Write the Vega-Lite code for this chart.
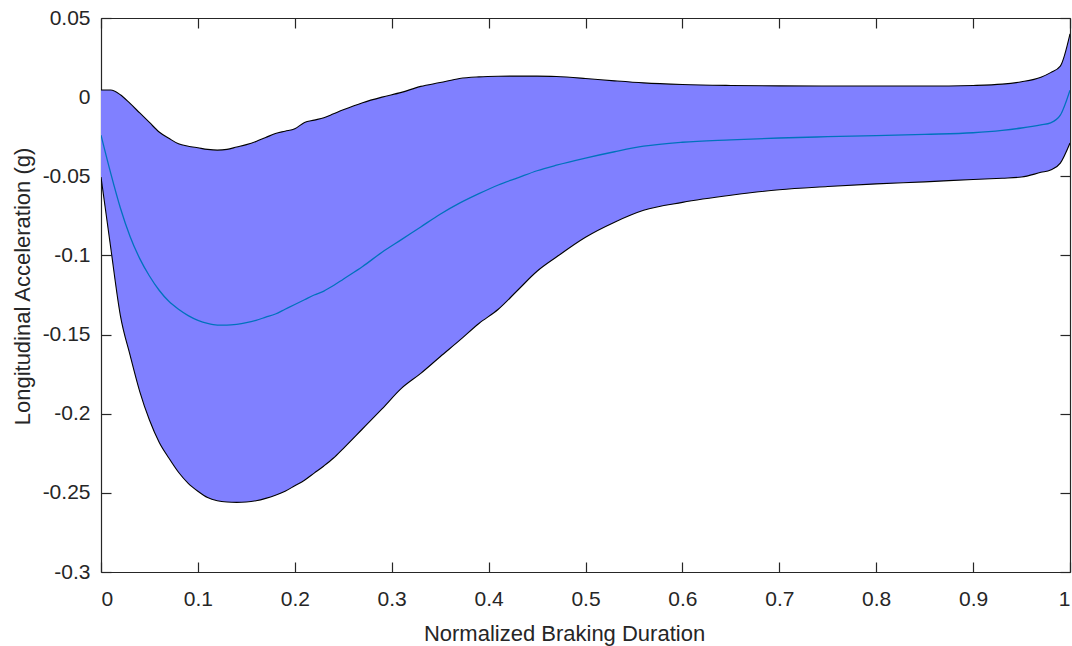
{
  "$schema": "https://vega.github.io/schema/vega-lite/v6.json",
  "width": 969,
  "height": 554,
  "autosize": {"type": "none"},
  "padding": {"left": 101, "top": 18, "right": 2, "bottom": 74},
  "background": "white",
  "config": {
    "view": {"stroke": null},
    "font": "Liberation Sans",
    "axis": {
      "domainColor": "#262626",
      "domainWidth": 1.2,
      "tickColor": "#262626",
      "tickWidth": 1.2,
      "tickSize": -10,
      "labelColor": "#262626",
      "labelFont": "Liberation Sans",
      "labelFontSize": 21,
      "titleFont": "Liberation Sans",
      "titleFontSize": 22,
      "titleFontWeight": "normal",
      "titleColor": "#262626",
      "grid": false,
      "zindex": 1
    }
  },
  "data": {
    "values": [
      {"x": 0, "lower": -0.0505, "mean": -0.024, "upper": 0.0045},
      {"x": 0.01, "lower": -0.095, "mean": -0.048, "upper": 0.0045},
      {"x": 0.02, "lower": -0.138, "mean": -0.07, "upper": 0.0015},
      {"x": 0.03, "lower": -0.163, "mean": -0.088, "upper": -0.004},
      {"x": 0.04, "lower": -0.186, "mean": -0.102, "upper": -0.01},
      {"x": 0.05, "lower": -0.204, "mean": -0.113, "upper": -0.016},
      {"x": 0.06, "lower": -0.218, "mean": -0.122, "upper": -0.022},
      {"x": 0.07, "lower": -0.228, "mean": -0.129, "upper": -0.026},
      {"x": 0.08, "lower": -0.237, "mean": -0.134, "upper": -0.0295},
      {"x": 0.09, "lower": -0.244, "mean": -0.138, "upper": -0.031},
      {"x": 0.1, "lower": -0.249, "mean": -0.141, "upper": -0.032},
      {"x": 0.11, "lower": -0.253, "mean": -0.143, "upper": -0.033},
      {"x": 0.12, "lower": -0.255, "mean": -0.144, "upper": -0.0335},
      {"x": 0.13, "lower": -0.2558, "mean": -0.144, "upper": -0.033},
      {"x": 0.14, "lower": -0.256, "mean": -0.1435, "upper": -0.0315},
      {"x": 0.15, "lower": -0.2558, "mean": -0.1425, "upper": -0.03},
      {"x": 0.16, "lower": -0.255, "mean": -0.141, "upper": -0.028},
      {"x": 0.17, "lower": -0.2535, "mean": -0.139, "upper": -0.0255},
      {"x": 0.18, "lower": -0.2515, "mean": -0.137, "upper": -0.023},
      {"x": 0.19, "lower": -0.249, "mean": -0.134, "upper": -0.0215},
      {"x": 0.2, "lower": -0.2455, "mean": -0.131, "upper": -0.02},
      {"x": 0.21, "lower": -0.242, "mean": -0.128, "upper": -0.016},
      {"x": 0.22, "lower": -0.2375, "mean": -0.125, "upper": -0.0145},
      {"x": 0.23, "lower": -0.233, "mean": -0.1225, "upper": -0.013},
      {"x": 0.24, "lower": -0.228, "mean": -0.119, "upper": -0.0105},
      {"x": 0.25, "lower": -0.222, "mean": -0.115, "upper": -0.008},
      {"x": 0.27, "lower": -0.2095, "mean": -0.107, "upper": -0.0035},
      {"x": 0.29, "lower": -0.197, "mean": -0.098, "upper": 0.0},
      {"x": 0.31, "lower": -0.184, "mean": -0.09, "upper": 0.003},
      {"x": 0.33, "lower": -0.1745, "mean": -0.082, "upper": 0.0068},
      {"x": 0.35, "lower": -0.164, "mean": -0.074, "upper": 0.0092},
      {"x": 0.37, "lower": -0.1537, "mean": -0.067, "upper": 0.0118},
      {"x": 0.39, "lower": -0.143, "mean": -0.061, "upper": 0.0128},
      {"x": 0.41, "lower": -0.134, "mean": -0.0555, "upper": 0.0132},
      {"x": 0.43, "lower": -0.122, "mean": -0.051, "upper": 0.0133},
      {"x": 0.45, "lower": -0.11, "mean": -0.0465, "upper": 0.0133},
      {"x": 0.47, "lower": -0.101, "mean": -0.043, "upper": 0.013},
      {"x": 0.5, "lower": -0.0885, "mean": -0.0385, "upper": 0.0118},
      {"x": 0.53, "lower": -0.079, "mean": -0.0345, "upper": 0.0103},
      {"x": 0.56, "lower": -0.0715, "mean": -0.031, "upper": 0.009},
      {"x": 0.6, "lower": -0.0665, "mean": -0.0285, "upper": 0.008},
      {"x": 0.65, "lower": -0.062, "mean": -0.027, "upper": 0.0074},
      {"x": 0.7, "lower": -0.0585, "mean": -0.0258, "upper": 0.0071},
      {"x": 0.75, "lower": -0.0565, "mean": -0.025, "upper": 0.007},
      {"x": 0.8, "lower": -0.0548, "mean": -0.0243, "upper": 0.007},
      {"x": 0.85, "lower": -0.0535, "mean": -0.0235, "upper": 0.007},
      {"x": 0.9, "lower": -0.052, "mean": -0.0225, "upper": 0.0074},
      {"x": 0.93, "lower": -0.0512, "mean": -0.021, "upper": 0.0082},
      {"x": 0.95, "lower": -0.0505, "mean": -0.0195, "upper": 0.0097},
      {"x": 0.97, "lower": -0.0475, "mean": -0.0175, "upper": 0.0126},
      {"x": 0.98, "lower": -0.046, "mean": -0.0162, "upper": 0.0155},
      {"x": 0.99, "lower": -0.0417, "mean": -0.0114, "upper": 0.0196},
      {"x": 1.0, "lower": -0.029, "mean": 0.0044, "upper": 0.04}
    ]
  },
  "layer": [
    {
      "mark": {"type": "area", "color": "#8080ff", "opacity": 1, "clip": true, "interpolate": "monotone"},
      "encoding": {
        "x": {
          "field": "x", "type": "quantitative",
          "scale": {"domain": [0, 1], "nice": false, "zero": false},
          "axis": {
            "orient": "bottom",
            "values": [0, 0.1, 0.2, 0.3, 0.4, 0.5, 0.6, 0.7, 0.8, 0.9, 1],
            "format": ".1~f",
            "labelPadding": 26,
            "title": "Normalized Braking Duration",
            "titleX": 463,
            "titleY": 61,
            "titleAlign": "center",
            "titleBaseline": "middle"
          }
        },
        "y": {
          "field": "lower", "type": "quantitative",
          "scale": {"domain": [-0.3, 0.05], "nice": false, "zero": false},
          "axis": {
            "orient": "left",
            "values": [-0.3, -0.25, -0.2, -0.15, -0.1, -0.05, 0, 0.05],
            "labelExpr": "datum.value == 0 ? '0' : (datum.value < 0 ? '-' : '') + format(abs(datum.value), '.2~f')",
            "labelPadding": 21,
            "title": "Longitudinal Acceleration (g)",
            "titleX": -79,
            "titleY": 268,
            "titleAlign": "center",
            "titleBaseline": "middle",
            "titleAngle": -90
          }
        },
        "y2": {"field": "upper"}
      }
    },
    {
      "mark": {"type": "line", "color": "#000000", "strokeWidth": 1.1, "clip": true, "interpolate": "monotone"},
      "encoding": {
        "x": {
          "field": "x", "type": "quantitative",
          "axis": {"orient": "top", "values": [0, 0.1, 0.2, 0.3, 0.4, 0.5, 0.6, 0.7, 0.8, 0.9, 1], "labels": false, "title": null}
        },
        "y": {
          "field": "upper", "type": "quantitative",
          "axis": {"orient": "right", "values": [-0.3, -0.25, -0.2, -0.15, -0.1, -0.05, 0, 0.05], "labels": false, "title": null}
        }
      }
    },
    {
      "mark": {"type": "line", "color": "#000000", "strokeWidth": 1.1, "clip": true, "interpolate": "monotone"},
      "encoding": {
        "x": {"field": "x", "type": "quantitative", "axis": null},
        "y": {"field": "lower", "type": "quantitative", "axis": null}
      }
    },
    {
      "mark": {"type": "line", "color": "#0072BD", "strokeWidth": 1.3, "clip": true, "interpolate": "monotone"},
      "encoding": {
        "x": {"field": "x", "type": "quantitative", "axis": null},
        "y": {"field": "mean", "type": "quantitative", "axis": null}
      }
    }
  ]
}
